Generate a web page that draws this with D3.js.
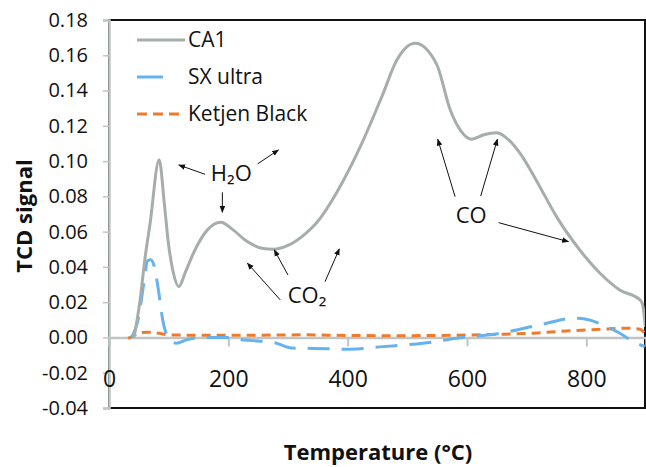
<!DOCTYPE html>
<html>
<head>
<meta charset="utf-8">
<script src="https://cdn.jsdelivr.net/npm/d3@7"></script>
<style>
    body { margin: 0; background: #fff; }
    text { font-family: "Open Sans", "DejaVu Sans", sans-serif; fill: #111; }
</style>
</head>
<body>
<svg id="chart" width="646" height="467"></svg>
<script>
// CA1 (grey solid)
var ca1Temp  = [42, 52, 60, 69, 84, 93, 99, 108, 117, 128, 144, 165, 187, 208, 228, 256, 275, 300, 328, 348, 381, 421, 459, 482, 513, 549, 572, 590, 608, 627, 650, 670, 689, 722, 750, 789, 823, 856, 890, 894, 899]
var ca1Value = [0, 0.021, 0.044, 0.065, 0.1007, 0.075, 0.055, 0.0364, 0.0288, 0.037, 0.0496, 0.061, 0.0653, 0.061, 0.0553, 0.0506, 0.050, 0.0522, 0.0585, 0.065, 0.0818, 0.108, 0.138, 0.157, 0.1668, 0.155, 0.129, 0.117, 0.1124, 0.1148, 0.1161, 0.112, 0.1044, 0.0855, 0.0685, 0.0496, 0.0364, 0.0269, 0.0213, 0.019, 0.006]

// SX ultra (blue long dash)
var sxTemp  = [38, 50, 58, 65, 70, 76, 82, 90, 99, 113, 130, 155, 200, 228, 250, 278, 306, 342, 404, 459, 526, 583, 655, 722, 778, 800, 834, 856, 879, 898]
var sxValue = [0, 0.012, 0.03, 0.0436, 0.044, 0.04, 0.0288, 0.01, 0, -0.0033, -0.0014, 0, 0, -0.0015, -0.002, -0.003, -0.006, -0.0062, -0.0067, -0.0052, -0.0033, -0.0005, 0.0024, 0.0071, 0.0109, 0.0103, 0.0061, 0.0024, -0.0024, -0.0052]

// Ketjen Black (orange short dash)
var kbTemp  = [32, 40, 49, 65, 80, 105, 150, 250, 331, 400, 488, 600, 655, 711, 767, 823, 868, 890, 898]
var kbValue = [-0.0005, 0.0008, 0.0024, 0.003, 0.0025, 0.0014, 0.0013, 0.0013, 0.0015, 0.0011, 0.001, 0.0014, 0.0018, 0.0024, 0.0037, 0.0046, 0.0052, 0.0046, 0.0025]

var seriesNames = ["CA1", "SX ultra", "Ketjen Black"]
var yTicks = [-0.04, -0.02, 0, 0.02, 0.04, 0.06, 0.08, 0.10, 0.12, 0.14, 0.16, 0.18]
var xTicks = [0, 200, 400, 600, 800]

// annotation labels and arrows, in data units [T, v] -> [T, v]
var annLabels = [
    {text: "H\u2082O", t: 205, v: 0.0885},
    {text: "CO\u2082", t: 332, v: 0.0197},
    {text: "CO",       t: 607, v: 0.0651}
]
var annArrows = [
    [161, 0.0925, 117, 0.0978],
    [249, 0.0984, 284, 0.1063],
    [190, 0.0823, 190, 0.0710],
    [287, 0.0213, 232, 0.0421],
    [300, 0.0354, 277, 0.0496],
    [362, 0.0316, 386, 0.0502],
    [580, 0.0798, 551, 0.1124],
    [623, 0.0802, 651, 0.1124],
    [653, 0.0651, 770, 0.0543]
]

var svg = d3.select("#chart")
var plotLeft = 109, plotRight = 646, plotTop = 20, plotBottom = 408

var x = d3.scaleLinear().domain([0, 900]).range([plotLeft, plotRight])
var y = d3.scaleLinear().domain([-0.04, 0.18]).range([plotBottom, plotTop])

var defs = svg.append("defs")
defs.append("clipPath").attr("id", "clip")
    .append("rect").attr("x", plotLeft).attr("y", plotTop)
    .attr("width", plotRight - plotLeft - 1).attr("height", plotBottom - plotTop)

var marker = defs.append("marker")
    .attr("id", "arrow")
    .attr("viewBox", "0 0 10 10")
    .attr("refX", 9).attr("refY", 5)
    .attr("markerWidth", 7).attr("markerHeight", 7)
    .attr("markerUnits", "userSpaceOnUse")
    .attr("orient", "auto")
marker.append("path").attr("d", "M0,1 L10,5 L0,9 Z").attr("fill", "#111")

// plot border (black top/right/bottom)
svg.append("rect")
    .attr("x", plotLeft).attr("y", plotTop)
    .attr("width", plotRight - plotLeft - 1).attr("height", plotBottom - plotTop)
    .attr("fill", "none").attr("stroke", "#111").attr("stroke-width", 2)

// y axis
var yAxis = d3.axisLeft(y).tickValues(yTicks).tickFormat(d3.format(".2f")).tickSize(6).tickPadding(15)
var gy = svg.append("g").attr("transform", "translate(" + plotLeft + ",0)").call(yAxis)
gy.select(".domain").attr("stroke", "#bfc5c3").attr("stroke-width", 2.5)
gy.selectAll(".tick line").attr("stroke", "#bfc5c3").attr("stroke-width", 1.5)
gy.selectAll(".tick text").attr("font-size", 20).attr("font-family", "Open Sans").attr("fill", "#111")
gy.selectAll(".tick text").text(function(d){ return d3.format(".2f")(d).replace("\u2212", "-") })

// x axis on the zero line
var xAxis = d3.axisBottom(x).tickValues(xTicks).tickSize(9).tickPadding(24)
var gx = svg.append("g").attr("transform", "translate(0," + y(0) + ")").call(xAxis)
gx.select(".domain").attr("stroke", "#bfc5c3").attr("stroke-width", 2.5)
gx.selectAll(".tick line").attr("stroke", "#bfc5c3").attr("stroke-width", 2)
    .attr("display", function(d){ return d === 0 ? "none" : null })
gx.selectAll(".tick text").attr("font-size", 23).attr("font-family", "Open Sans").attr("fill", "#111")

// series
var line = d3.line()
    .x(function(d){ return x(d[0]) })
    .y(function(d){ return y(d[1]) })
    .curve(d3.curveMonotoneX)

var plot = svg.append("g").attr("clip-path", "url(#clip)")

plot.append("path")
    .datum(d3.zip(kbTemp, kbValue))
    .attr("d", line).attr("fill", "none")
    .attr("stroke", "#f07a2c").attr("stroke-width", 3).attr("stroke-dasharray", "9,6")

plot.append("path")
    .datum(d3.zip(sxTemp, sxValue))
    .attr("d", line).attr("fill", "none")
    .attr("stroke", "#66b2ee").attr("stroke-width", 3).attr("stroke-dasharray", "22,12")

plot.append("path")
    .datum(d3.zip(ca1Temp, ca1Value))
    .attr("d", line).attr("fill", "none")
    .attr("stroke", "#a6aeaa").attr("stroke-width", 3)

// legend
var legend = svg.append("g")
var legendY = [40, 77, 114]
var sampleEnd = [185, 163, 185]
var sampleColor = ["#a6aeaa", "#66b2ee", "#f07a2c"]
var sampleDash = [null, null, "10,6"]
for(var i=0; i<seriesNames.length; i++)
{
    legend.append("line")
        .attr("x1", 137).attr("x2", sampleEnd[i])
        .attr("y1", legendY[i]).attr("y2", legendY[i])
        .attr("stroke", sampleColor[i]).attr("stroke-width", 3)
        .attr("stroke-dasharray", sampleDash[i])
    legend.append("text")
        .attr("x", 188).attr("y", legendY[i] + 7)
        .attr("font-size", 21)
        .text(seriesNames[i])
}

// annotations
svg.selectAll(".ann-arrow")
    .data(annArrows)
    .enter()
        .append("line")
        .attr("class", "ann-arrow")
        .attr("x1", function(d){ return x(d[0]) })
        .attr("y1", function(d){ return y(d[1]) })
        .attr("x2", function(d){ return x(d[2]) })
        .attr("y2", function(d){ return y(d[3]) })
        .attr("stroke", "#111").attr("stroke-width", 1)
        .attr("marker-end", "url(#arrow)")

svg.selectAll(".ann-label")
    .data(annLabels)
    .enter()
        .append("text")
        .attr("class", "ann-label")
        .attr("x", function(d){ return x(d.t) })
        .attr("y", function(d){ return y(d.v) })
        .attr("text-anchor", "middle")
        .attr("font-size", 22)
        .text(function(d){ return d.text })

// axis titles
svg.append("text")
    .attr("x", 378).attr("y", 460)
    .attr("text-anchor", "middle")
    .attr("font-size", 22).attr("font-weight", "bold")
    .text("Temperature (\u00B0C)")

svg.append("text")
    .attr("transform", "translate(32,216) rotate(-90)")
    .attr("text-anchor", "middle")
    .attr("font-size", 22).attr("font-weight", "bold")
    .text("TCD signal")
</script>
</body>
</html>
